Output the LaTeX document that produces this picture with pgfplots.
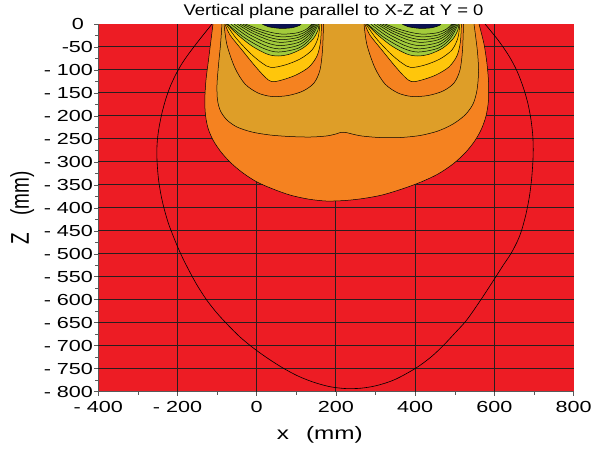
\documentclass[border=0pt]{standalone}
\usepackage{fontspec}
\setmainfont{Liberation Sans}[FakeStretch=1.35]
\newfontfamily\plainfont{Liberation Sans}
\newfontfamily\titlefont{Liberation Sans}[FakeStretch=1.19]
\usepackage{graphicx}
\usepackage{pgfplots}
\pgfplotsset{compat=1.18}
\definecolor{cred}{HTML}{ED1C24}
\definecolor{corange}{HTML}{F58220}
\definecolor{cochre}{HTML}{DE9E28}
\definecolor{cyellow}{HTML}{FFC60B}
\definecolor{cgreen}{HTML}{A3CB3B}
\definecolor{cnavy}{HTML}{0B1250}
\definecolor{cgrid}{HTML}{2A1E1E}
\begin{document}
\begin{tikzpicture}[x=1pt,y=1pt]
\path[use as bounding box] (0,0) rectangle (598,448);
\begin{axis}[
  at={(98.2pt,56.3pt)}, anchor=south west,
  scale only axis, width=475.5pt, height=367.7pt,
  xmin=-400, xmax=800, ymin=-800, ymax=0,
  axis x line*=bottom, axis y line*=left,
  axis line style={gray!70!black, line width=0.7pt},
  axis background/.style={fill=cred},
  xtick={-400,-200,...,800},
  xticklabels={- 400,- 200,\raisebox{-4pt}{0},200,400,600,800},
  ytick={-800,-750,...,0},
  yticklabels={- 800,- 750,- 700,- 650,- 600,- 550,- 500,- 450,- 400,- 350,- 300,- 250,- 200,- 150,- 100,-50,0\hspace*{9pt}},
  minor x tick num=1, minor y tick num=1,
  tick align=outside, major tick length=4pt, minor tick length=3pt,
  tick style={gray!70!black, line width=0.6pt},
  extra x ticks={-200,0,...,600}, extra x tick labels={},
  extra y ticks={-750,-700,...,-50}, extra y tick labels={},
  extra tick style={grid=major, major tick length=0pt},
  major grid style={cgrid, line width=1pt},
  xticklabel style={font=\fontsize{16}{16}\selectfont, inner sep=0pt, anchor=north, yshift=-5pt},
  yticklabel style={font=\fontsize{16}{16}\selectfont, inner sep=0pt, anchor=east, xshift=-1pt},
  title={Vertical plane parallel to X-Z at Y = 0},
  title style={at={(0.495,1)}, anchor=base, yshift=2.5pt, inner sep=0pt, font=\titlefont\fontsize{15.5}{16}\selectfont},
  xlabel={x\hspace{17pt}(mm)},
  xlabel style={at={(0.466,0)}, anchor=base, yshift=-48pt, inner sep=0pt, font=\fontsize{18}{18}\selectfont},
  ylabel={\plainfont\scalebox{1}[1.35]{Z\hspace{17pt}(mm)}},
  ylabel style={at={(-0.16,0.5)}, anchor=center, inner sep=0pt, font=\fontsize{19}{19}\selectfont},
  clip=true,
]
% outer contour line
\addplot[draw=black, line width=0.6pt, smooth] coordinates {
(-112.8,0) (-143.1,-32.6) (-168.3,-60.9) (-188.5,-85.9) (-204.9,-111) (-218.8,-137.1)
(-230.2,-165.4) (-239,-193.6) (-245.8,-221.9) (-250.4,-250.2) (-252.1,-278.5) (-250.9,-306.8)
(-247.6,-339.4) (-241,-374.2) (-232.7,-404.7) (-223.1,-433) (-211.7,-459.1) (-199.9,-484.1)
(-186.8,-509.1) (-172.1,-534.2) (-150.7,-567.9) (-126.2,-600.5) (-101.5,-627.7) (-75,-652.7)
(-42.1,-681) (-6.8,-706) (28.5,-727.8) (66.4,-748.5) (104.2,-765.9) (142.1,-778.9)
(182.5,-788.7) (222.8,-793.1) (263.2,-792.4) (303.6,-786.5) (349,-773.5) (402,-748.5)
(439.9,-724.5) (470.9,-699.5) (500.4,-672.3) (530,-644) (566.1,-599.4) (601.4,-552.7)
(621.6,-525.5) (641.8,-499.3) (658.2,-472.1) (668.8,-448.2) (679.6,-413.4) (688,-376.4)
(693.5,-339.4) (696.8,-302.4) (697.8,-274.2) (696.8,-243.7) (692.3,-208.9) (684.7,-174.1)
(673.3,-139.3) (656.9,-102.3) (636.7,-69.6) (609,-34.8) (576.2,0)};
% orange blob
\addplot[fill=corange, draw=black, line width=0.5pt, smooth] coordinates {
(-110.3,0) (-115.3,-34.8) (-121.6,-78.3) (-128,-121.8) (-131,-165.4) (-129.2,-198)
(-122.9,-226.3) (-110.3,-252.4) (-90.1,-278.5) (-64.9,-302.4) (-34.6,-324.2) (0.8,-343.8)
(41.1,-359) (84,-372.1) (129.5,-380.8) (174.9,-385.1) (222.8,-384) (268.3,-379.7)
(316.2,-372.1) (366.7,-359) (414.6,-343.8) (457.5,-326.4) (495.4,-304.6) (525.7,-280.7)
(548.4,-256.7) (566.1,-230.6) (578.7,-200.2) (585,-165.4) (585,-126.2) (581.2,-87)
(573.6,-43.5) (561,0)};
% ochre region
\addplot[fill=cochre, draw=black, line width=0.5pt, smooth] coordinates {
(-87.6,0) (-91.4,-45.7) (-96.4,-89.2) (-100.2,-132.7) (-98.9,-165.4) (-91.4,-189.3)
(-75,-208.9) (-49.7,-224.1) (-11.9,-235) (33.6,-241.5) (84,-244.8) (134.5,-245.9)
(174.9,-243.7) (200.1,-239.3) (212.7,-235.6) (225.4,-236.1) (240.5,-239.3) (265.7,-243.7)
(311.2,-247) (361.6,-247) (412.1,-242.6) (457.5,-232.8) (495.4,-217.6) (525.7,-198)
(545.9,-174.1) (556,-143.6) (559.8,-104.4) (557.2,-60.9) (548.4,0)};
% left lobe
\addplot[fill=corange, draw=black, line width=0.5pt, smooth] coordinates {
(-82.5,0) (-75,-45.7) (-54.8,-95.7) (-29.5,-130.5) (3.3,-150.1) (38.6,-157.7) (79,-155.6)
(116.8,-145.8) (144.6,-128.4) (159.7,-100.1) (166.1,-56.6) (168.6,0)};
\addplot[fill=cyellow, draw=black, line width=0.5pt, smooth] coordinates {
(-80,0) (-67.4,-23.9) (-37.1,-56.6) (-4.3,-91.4) (20.9,-115.3) (37.9,-125.5) (63.8,-121.8)
(99.2,-111) (132,-93.6) (152.2,-69.6) (161,-39.2) (163.5,0)};
\addplot[draw=black, line width=0.5pt, smooth] coordinates {
(-77.5,0) (-52.2,-30.5) (-16.9,-63.1) (13.4,-84.9) (36.1,-94.6) (71.4,-89.2) (109.3,-76.2)
(139.6,-56.6) (154.7,-30.5) (159.7,0)};
\addplot[fill=cgreen, draw=black, line width=0.5pt, smooth] coordinates {
(-75,0) (-47.2,-23.9) (-11.9,-47.9) (26,-65.3) (53.8,-69.6) (84,-65.3) (116.8,-52.2)
(142.1,-32.6) (154.7,-13.1) (157.2,0)};
\addplot[draw=black, line width=0.5pt, smooth] coordinates {(-73.5,0) (-31.4,-29.3) (15.8,-52.5) (54,-61) (105,-52.5) (135.6,-31.7) (156,0)};
\addplot[draw=black, line width=0.5pt, smooth] coordinates {(-65.4,0) (-25.2,-25.9) (19.9,-46.4) (56.5,-54) (104.8,-46.4) (133.7,-28.1) (153,0)};
\addplot[draw=black, line width=0.5pt, smooth] coordinates {(-57.3,0) (-18.9,-22.6) (24.1,-40.4) (59,-47) (104.5,-40.4) (131.8,-24.4) (150,0)};
\addplot[draw=black, line width=0.5pt, smooth] coordinates {(-49.2,0) (-12.5,-19.2) (28.6,-34.4) (62,-40) (104.5,-34.4) (130,-20.8) (147,0)};
\addplot[draw=black, line width=0.5pt, smooth] coordinates {(-42.3,0) (-7.2,-16.3) (32.1,-29.2) (64,-34) (104.3,-29.2) (128.4,-17.7) (144.5,0)};
\addplot[draw=black, line width=0.5pt, smooth] coordinates {(-35.4,0) (-1.8,-13.4) (35.9,-24.1) (66.4,-28) (104.2,-24.1) (126.9,-14.6) (142,0)};
\addplot[draw=black, line width=0.5pt, smooth] coordinates {(-28.5,0) (3.6,-10.6) (39.5,-18.9) (68.7,-22) (104,-18.9) (125.2,-11.4) (139.3,0)};
\addplot[fill=cnavy, draw=black, line width=0.5pt, smooth] coordinates {(14,0) (30,-6) (60,-9.5) (90,-8) (108,-3) (112,0)};
% right lobe
\addplot[fill=corange, draw=black, line width=0.5pt, smooth] coordinates {
(270.8,0) (278.3,-45.7) (298.5,-95.7) (323.8,-130.5) (356.6,-150.1) (391.9,-157.7) (432.3,-155.6)
(470.1,-145.8) (497.9,-128.4) (513,-100.1) (519.4,-56.6) (521.9,0)};
\addplot[fill=cyellow, draw=black, line width=0.5pt, smooth] coordinates {
(273,0) (285.6,-23.9) (315.9,-56.6) (348.7,-91.4) (373.9,-115.3) (390.9,-125.5) (416.8,-121.8)
(452.2,-111) (485,-93.6) (505.2,-69.6) (514,-39.2) (516.5,0)};
\addplot[draw=black, line width=0.5pt, smooth] coordinates {
(275.5,0) (300.8,-30.5) (336.1,-63.1) (366.4,-84.9) (389.1,-94.6) (424.4,-89.2) (462.3,-76.2)
(492.6,-56.6) (507.7,-30.5) (512.7,0)};
\addplot[fill=cgreen, draw=black, line width=0.5pt, smooth] coordinates {
(278,0) (305.8,-23.9) (341.1,-47.9) (379,-65.3) (406.8,-69.6) (437,-65.3) (469.8,-52.2)
(495.1,-32.6) (507.7,-13.1) (510.2,0)};
\addplot[draw=black, line width=0.5pt, smooth] coordinates {(279.5,0) (321.6,-29.3) (368.8,-52.5) (407,-61) (458,-52.5) (488.6,-31.7) (509,0)};
\addplot[draw=black, line width=0.5pt, smooth] coordinates {(287.6,0) (327.8,-25.9) (372.9,-46.4) (409.5,-54) (457.8,-46.4) (486.7,-28.1) (506,0)};
\addplot[draw=black, line width=0.5pt, smooth] coordinates {(295.7,0) (334.1,-22.6) (377.1,-40.4) (412,-47) (457.5,-40.4) (484.8,-24.4) (503,0)};
\addplot[draw=black, line width=0.5pt, smooth] coordinates {(303.8,0) (340.5,-19.2) (381.6,-34.4) (415,-40) (457.5,-34.4) (483,-20.8) (500,0)};
\addplot[draw=black, line width=0.5pt, smooth] coordinates {(310.7,0) (345.8,-16.3) (385.1,-29.2) (417,-34) (457.3,-29.2) (481.4,-17.7) (497.5,0)};
\addplot[draw=black, line width=0.5pt, smooth] coordinates {(317.6,0) (351.2,-13.4) (388.9,-24.1) (419.4,-28) (457.2,-24.1) (479.9,-14.6) (495,0)};
\addplot[draw=black, line width=0.5pt, smooth] coordinates {(324.5,0) (356.6,-10.6) (392.5,-18.9) (421.7,-22) (457,-18.9) (478.2,-11.4) (492.3,0)};
\addplot[fill=cnavy, draw=black, line width=0.5pt, smooth] coordinates {(367,0) (383,-6) (413,-9.5) (443,-8) (461,-3) (465,0)};
\end{axis}
\end{tikzpicture}
\end{document}
